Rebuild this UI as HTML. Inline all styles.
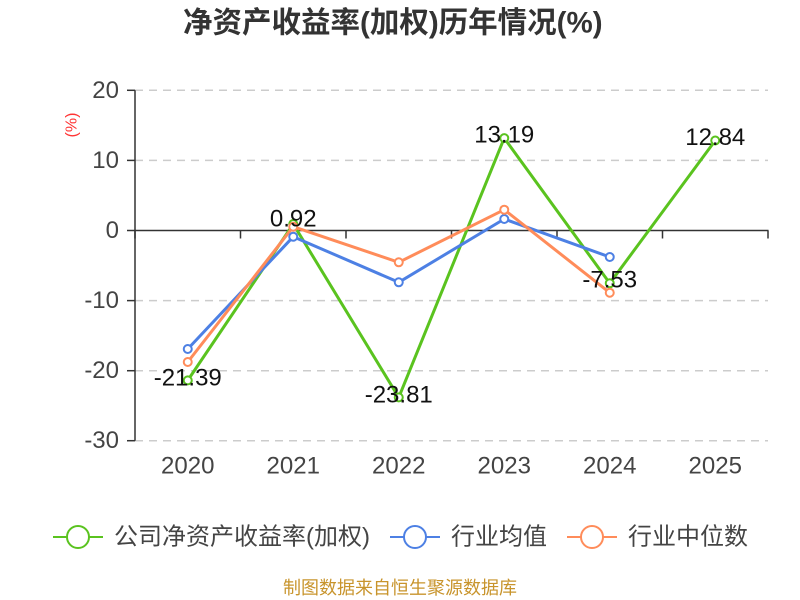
<!DOCTYPE html>
<html><head><meta charset="utf-8"><style>
html,body{margin:0;padding:0;background:#fff;}
svg{display:block;}
text{font-family:"Liberation Sans","Noto Sans CJK SC",sans-serif;}
</style></head><body>
<svg width="800" height="600" viewBox="0 0 800 600" xmlns="http://www.w3.org/2000/svg">
<rect width="800" height="600" fill="#fff"/>
<text x="183" y="23" font-size="29.5" font-weight="bold" fill="#333" dominant-baseline="central">净资产收益率(加权)历年情况(%)</text>

<!-- grid -->
<g stroke="#cccccc" stroke-width="1.5" stroke-dasharray="8,6">
<line x1="135" y1="90.3" x2="768" y2="90.3"/>
<line x1="135" y1="160.4" x2="768" y2="160.4"/>
<line x1="135" y1="300.6" x2="768" y2="300.6"/>
<line x1="135" y1="370.7" x2="768" y2="370.7"/>
<line x1="135" y1="440.7" x2="768" y2="440.7"/>
</g>
<!-- axes -->
<g stroke="#333" stroke-width="1.5" fill="none">
<line x1="135" y1="90.3" x2="135" y2="440.7"/>
<line x1="127" y1="90.3" x2="135" y2="90.3"/>
<line x1="127" y1="160.4" x2="135" y2="160.4"/>
<line x1="127" y1="230.5" x2="135" y2="230.5"/>
<line x1="127" y1="300.6" x2="135" y2="300.6"/>
<line x1="127" y1="370.7" x2="135" y2="370.7"/>
<line x1="127" y1="440.7" x2="135" y2="440.7"/>
<line x1="135" y1="230.5" x2="768.5" y2="230.5"/>
<line x1="135" y1="230.5" x2="135" y2="238.5"/>
<line x1="240.5" y1="230.5" x2="240.5" y2="238.5"/>
<line x1="346" y1="230.5" x2="346" y2="238.5"/>
<line x1="451.5" y1="230.5" x2="451.5" y2="238.5"/>
<line x1="557" y1="230.5" x2="557" y2="238.5"/>
<line x1="662.5" y1="230.5" x2="662.5" y2="238.5"/>
<line x1="768" y1="230.5" x2="768" y2="238.5"/>
</g>
<g font-size="24" fill="#444" text-anchor="end" dominant-baseline="central">
<text x="119" y="90.3">20</text>
<text x="119" y="160.4">10</text>
<text x="119" y="230.5">0</text>
<text x="119" y="300.6">-10</text>
<text x="119" y="370.7">-20</text>
<text x="119" y="440.7">-30</text>
</g>
<g font-size="24" fill="#444" text-anchor="middle" dominant-baseline="central">
<text x="187.75" y="466">2020</text>
<text x="293.25" y="466">2021</text>
<text x="398.75" y="466">2022</text>
<text x="504.25" y="466">2023</text>
<text x="609.75" y="466">2024</text>
<text x="715.25" y="466">2025</text>
</g>
<text x="0" y="0" font-size="16" fill="#ff3333" text-anchor="middle" dominant-baseline="central" transform="translate(72,125) rotate(-90)">(%)</text>

<!-- series -->
<g fill="none" stroke-width="3" stroke-linejoin="round">
<polyline stroke="#5ac31f" points="187.75,380.4 293.25,224.05 398.75,397.4 504.25,138.1 609.75,283.3 715.25,140.5"/>
<polyline stroke="#4d80e4" points="187.75,349 293.25,236.7 398.75,282.3 504.25,219 609.75,257"/>
<polyline stroke="#ff8c5a" points="187.75,362 293.25,226.7 398.75,262.3 504.25,209.7 609.75,292.7"/>
</g>
<g fill="#fff" stroke-width="2">
<g stroke="#5ac31f">
<circle cx="187.75" cy="380.4" r="4"/><circle cx="293.25" cy="224.05" r="4"/><circle cx="398.75" cy="397.4" r="4"/><circle cx="504.25" cy="138.1" r="4"/><circle cx="609.75" cy="283.3" r="4"/><circle cx="715.25" cy="140.5" r="4"/>
</g>
<g stroke="#4d80e4">
<circle cx="187.75" cy="349" r="4"/><circle cx="293.25" cy="236.7" r="4"/><circle cx="398.75" cy="282.3" r="4"/><circle cx="504.25" cy="219" r="4"/><circle cx="609.75" cy="257" r="4"/>
</g>
<g stroke="#ff8c5a">
<circle cx="187.75" cy="362" r="4"/><circle cx="293.25" cy="226.7" r="4"/><circle cx="398.75" cy="262.3" r="4"/><circle cx="504.25" cy="209.7" r="4"/><circle cx="609.75" cy="292.7" r="4"/>
</g>
</g>
<g font-size="24" fill="#111" text-anchor="middle" dominant-baseline="central">
<text x="187.75" y="378">-21.39</text>
<text x="293.25" y="219">0.92</text>
<text x="398.75" y="395">-23.81</text>
<text x="504.25" y="135">13.19</text>
<text x="609.75" y="280">-7.53</text>
<text x="715.25" y="137.5">12.84</text>
</g>

<!-- legend -->
<g stroke-width="2" fill="#fff">
<line x1="53" y1="537" x2="103" y2="537" stroke="#5ac31f"/>
<circle cx="78" cy="537" r="11" stroke="#5ac31f"/>
<line x1="390" y1="537" x2="440" y2="537" stroke="#4d80e4"/>
<circle cx="415" cy="537" r="11" stroke="#4d80e4"/>
<line x1="567" y1="537" x2="617" y2="537" stroke="#ff8c5a"/>
<circle cx="592" cy="537" r="11" stroke="#ff8c5a"/>
</g>
<g font-size="24" fill="#444" dominant-baseline="central">
<text x="114" y="537">公司净资产收益率(加权)</text>
<text x="451" y="537">行业均值</text>
<text x="628" y="537">行业中位数</text>
</g>
<text x="283" y="588" font-size="18" fill="#c8942c" dominant-baseline="central">制图数据来自恒生聚源数据库</text>
</svg>
</body></html>
